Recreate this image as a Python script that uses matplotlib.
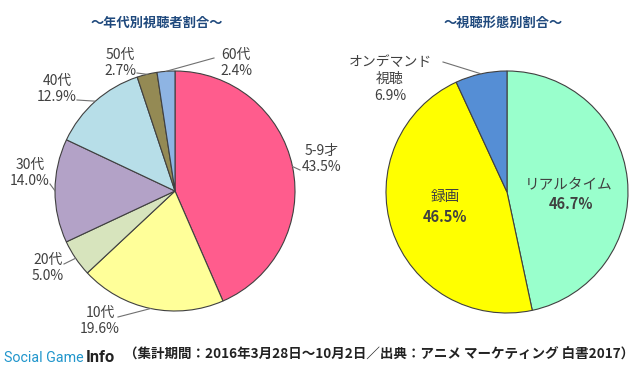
import numpy as np
import matplotlib
matplotlib.use('Agg')
import matplotlib.pyplot as plt

plt.rcParams['font.family'] = ['Noto Sans CJK JP', 'DejaVu Sans']

# 年代別視聴者割合
age_labels = ['5-9才', '10代', '20代', '30代', '40代', '50代', '60代']
age_values = [43.5, 19.6, 5.0, 14.0, 12.9, 2.7, 2.4]
age_colors = ['#FF5C8D', '#FFFF99', '#D7E4BD', '#B3A2C7', '#B7DEE8', '#948A54', '#8EB4E3']

# 視聴形態別割合
view_labels = ['リアルタイム', '録画', 'オンデマンド\n視聴']
view_values = [46.7, 46.5, 6.9]
view_colors = ['#99FFCC', '#FFFF00', '#558ED5']

footer = '（集計期間：2016年3月28日～10月2日／出典：アニメ マーケティング 白書2017）'

W, H = 640, 371
fig = plt.figure(figsize=(6.4, 3.71), dpi=100)
ax = fig.add_axes([0, 0, 1, 1])

def py(y):
    # image pixel y -> axes y
    return H - y

edge = dict(edgecolor='#404040', linewidth=0.8)
c1, r1 = (175, py(191)), 120
c2, r2 = (507, py(192)), 121

w1, _ = ax.pie(age_values, colors=age_colors, startangle=90, counterclock=False,
               center=c1, radius=r1, wedgeprops=edge)
w2, _ = ax.pie(view_values, colors=view_colors, startangle=90, counterclock=False,
               center=c2, radius=r2, wedgeprops=edge)

ax.set_xlim(0, W)
ax.set_ylim(0, H)
ax.set_aspect('equal')
ax.axis('off')

txt = '#404040'
fs = 10

def edge_point(w, c, r, frac=0.5):
    ang = np.deg2rad(w.theta1 + (w.theta2 - w.theta1) * frac)
    return c[0] + r * np.cos(ang), c[1] + r * np.sin(ang)

# label text position (image px) and leader line start (image px)
age_pos = [(322, 159), (100, 321), (48, 268), (30, 173), (57, 89), (120, 63), (236, 63)]
age_lead = [(300, 170), (118, 317), (64, 264), (50, 184), (77, 100), (137, 73), (214, 58)]
for w, lab, v, p, l in zip(w1, age_labels, age_values, age_pos, age_lead):
    ax.text(p[0], py(p[1]), f'{lab}\n{v:.1f}%', ha='center', va='center',
            fontsize=fs, color=txt, linespacing=1.15)
    ex, ey = edge_point(w, c1, r1)
    ax.plot([l[0], ex], [py(l[1]), ey], color='#707070', lw=0.8)

# right pie
ax.text(569, py(184), view_labels[0], ha='center', va='center', fontsize=fs + 0.5, color=txt)
ax.text(571, py(204), f'{view_values[0]:.1f}%', ha='center', va='center',
        fontsize=fs + 0.5, color=txt, fontweight='semibold')
ax.text(445, py(197), view_labels[1], ha='center', va='center', fontsize=fs + 0.5, color=txt)
ax.text(445, py(217), f'{view_values[1]:.1f}%', ha='center', va='center',
        fontsize=fs + 0.5, color=txt, fontweight='semibold')
ax.text(390, py(79), f'{view_labels[2]}\n{view_values[2]:.1f}%', ha='center', va='center',
        fontsize=fs, color=txt, linespacing=1.25)
ex, ey = edge_point(w2[2], c2, r2)
ax.plot([443, ex], [py(62), ey], color='#707070', lw=0.8)

# titles
title_c = '#1F497D'
ax.text(157, py(23), '～年代別視聴者割合～', ha='center', va='center',
        fontsize=9.5, fontweight='bold', color=title_c)
ax.text(503, py(23), '～視聴形態別割合～', ha='center', va='center',
        fontsize=9.5, fontweight='bold', color=title_c)

# footer: fit each piece to the width it takes in the reference
fig.canvas.draw()
rend = fig.canvas.get_renderer()

def fit(t, width):
    w = t.get_window_extent(rend).width
    t.set_fontsize(t.get_fontsize() * width / w)
    return t.get_window_extent(rend)

t1 = ax.text(4, py(358), 'Social Game', ha='left', va='center', fontsize=12,
             color='#2196CC', family='Roboto')
bb = fit(t1, 80)
t2 = ax.text(bb.x1 + 2, py(358), 'Info', ha='left', va='center',
             fontsize=t1.get_fontsize() * 1.15,
             color='#222222', family='Roboto', fontweight='bold')
bb2 = t2.get_window_extent(rend)

t3 = ax.text(bb2.x1 + 9, py(355), footer, ha='left', va='center', fontsize=9,
             fontweight='bold', color='#222222')
fit(t3, 634 - bb2.x1 - 9)

fig.savefig('out.png', dpi=100)
